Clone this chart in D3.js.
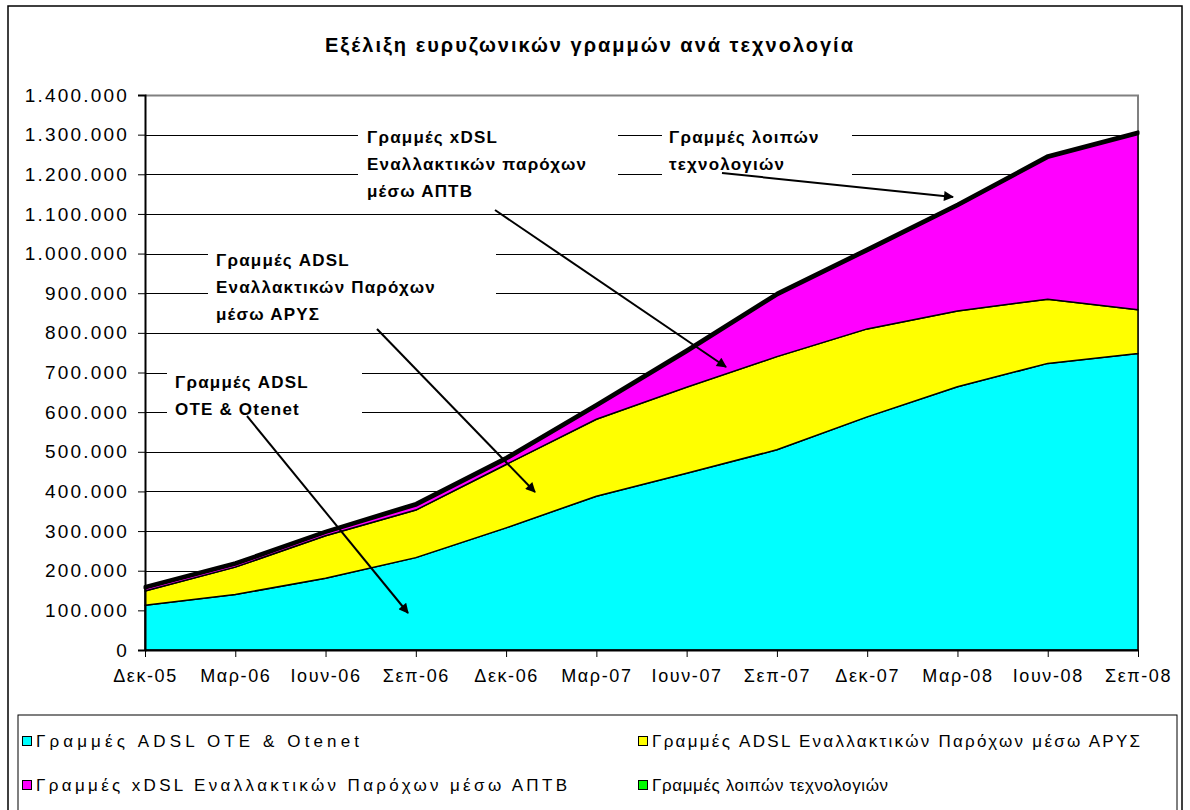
<!DOCTYPE html>
<html>
<head>
<meta charset="utf-8">
<script src="https://cdn.jsdelivr.net/npm/d3@7"></script>
<style>
  body { margin: 0; background: #fff; }
  svg text { font-family: Arial, "Liberation Sans", sans-serif; fill: #000; }
  .ann { font-weight: bold; font-size: 17px; letter-spacing: 1.2px; }
  .tick text { font-size: 18px; letter-spacing: 1.6px; }
  .yaxis .tick text { font-size: 19px; letter-spacing: 2.2px; }
</style>
</head>
<body>
<div id="chart"></div>
<script>
// quarters (x categories)
var categories = ["Δεκ-05", "Μαρ-06", "Ιουν-06", "Σεπ-06", "Δεκ-06", "Μαρ-07",
                  "Ιουν-07", "Σεπ-07", "Δεκ-07", "Μαρ-08", "Ιουν-08", "Σεπ-08"];

// series names, same order as stacking (bottom -> top)
var seriesNames = ["Γραμμές ADSL OTE & Otenet",
                   "Γραμμές ADSL Εναλλακτικών Παρόχων μέσω ΑΡΥΣ",
                   "Γραμμές xDSL Εναλλακτικών Παρόχων μέσω ΑΠΤΒ",
                   "Γραμμές λοιπών τεχνολογιών"];
var seriesColors = ["#00ffff", "#ffff00", "#ff00ff", "#00ff00"];

// values
var oteValues   = [113000, 140000, 181000, 233000, 308000, 388000, 446000, 505000, 588000, 664000, 723000, 748000];
var arysValues  = [36000, 69000, 107000, 120000, 160000, 194000, 217000, 235000, 222000, 191000, 162000, 110000];
var aptbValues  = [7000, 7000, 8000, 12000, 13000, 33000, 89000, 155000, 197000, 265000, 357000, 444000];
var otherValues = [4000, 4000, 4000, 5000, 5000, 5000, 5000, 5000, 5000, 5000, 5000, 5000];

var yTicks = d3.range(0, 1400001, 100000);
var chartTitle = "Εξέλιξη ευρυζωνικών γραμμών ανά τεχνολογία";

// annotations: text lines, box & text position, arrow (pixels)
var annotations = [
    {lines: ["Γραμμές xDSL", "Εναλλακτικών παρόχων", "μέσω ΑΠΤΒ"], tx: 367, ty: 143,
     box: [358, 118, 260, 84], arrow: [495, 210, 726, 367]},
    {lines: ["Γραμμές λοιπών", "τεχνολογιών"], tx: 669, ty: 143,
     box: [662, 118, 190, 60], arrow: [722, 173, 953, 197]},
    {lines: ["Γραμμές ADSL", "Εναλλακτικών Παρόχων", "μέσω ΑΡΥΣ"], tx: 216, ty: 266,
     box: [208, 240, 288, 84], arrow: [377, 329, 535, 492]},
    {lines: ["Γραμμές ADSL", "OTE & Otenet"], tx: 175, ty: 388,
     box: [167, 362, 195, 60], arrow: [247, 416, 408, 613]}
];

// legend layout: item positions and text widths as rendered in the original
var legendPos = [[22, 741], [638, 741], [22, 785], [638, 785]];
var legendTextWidths = [323, 488, 531, 236];

var width = 1190, height = 810;
var margin = {top: 95, right: 52, bottom: 160, left: 145};
var plotW = width - margin.left - margin.right;
var plotH = height - margin.top - margin.bottom;

var svg = d3.select("#chart").append("svg")
    .attr("width", width)
    .attr("height", height);

// arrow marker
svg.append("defs").append("marker")
    .attr("id", "arrowhead")
    .attr("viewBox", "0 0 10 10")
    .attr("refX", 9).attr("refY", 5)
    .attr("markerWidth", 6).attr("markerHeight", 5)
    .attr("markerUnits", "strokeWidth")
    .attr("orient", "auto")
    .append("path").attr("d", "M0,0 L10,5 L0,10 z").attr("fill", "#000");

// outer chart frame
svg.append("rect")
    .attr("x", 8).attr("y", 6)
    .attr("width", 1174).attr("height", 820)
    .attr("fill", "#fff").attr("stroke", "#000").attr("stroke-width", 1.5);

svg.append("text")
    .attr("x", 590).attr("y", 52)
    .attr("text-anchor", "middle")
    .style("font-size", "20px").style("font-weight", "bold").style("letter-spacing", "2px")
    .text(chartTitle);

var g = svg.append("g").attr("transform", "translate(" + margin.left + "," + margin.top + ")");

var x = d3.scalePoint().domain(categories).range([0, plotW]);
var y = d3.scaleLinear().domain([0, 1400000]).range([plotH, 0]);

// gridlines
g.selectAll("line.grid").data(yTicks.slice(1, -1)).enter().append("line")
    .attr("class", "grid")
    .attr("x1", 0).attr("x2", plotW)
    .attr("y1", function (d) { return Math.round(y(d)) + 0.5; })
    .attr("y2", function (d) { return Math.round(y(d)) + 0.5; })
    .attr("stroke", "#000").attr("stroke-width", 1);

// plot frame (top + right in grey)
g.append("path")
    .attr("d", "M0," + (y(1400000) + 0.5) + "H" + plotW + "V" + plotH)
    .attr("fill", "none").attr("stroke", "#808080").attr("stroke-width", 2);

// white boxes behind annotation labels
annotations.forEach(function (a) {
    svg.append("rect")
        .attr("x", a.box[0]).attr("y", a.box[1])
        .attr("width", a.box[2]).attr("height", a.box[3])
        .attr("fill", "#fff");
});

// stacked areas
var rows = categories.map(function (c, i) {
    return {cat: c, s0: oteValues[i], s1: arysValues[i], s2: aptbValues[i], s3: otherValues[i]};
});
var stack = d3.stack().keys(["s0", "s1", "s2", "s3"]);
var layers = stack(rows);

var area = d3.area()
    .x(function (d) { return x(d.data.cat); })
    .y0(function (d) { return y(d[0]); })
    .y1(function (d) { return y(d[1]); });

g.selectAll("path.layer").data(layers).enter().append("path")
    .attr("class", "layer")
    .attr("d", area)
    .attr("fill", function (d, i) { return seriesColors[i]; })
    .attr("stroke", "#000")
    .attr("stroke-width", function (d, i) { return i == 3 ? 3 : 1.5; })
    .attr("stroke-linejoin", "round");

// axes
var fmt = d3.formatLocale({decimal: ",", thousands: ".", grouping: [3], currency: ["", "€"]}).format(",");

var yAxis = g.append("g").attr("class", "yaxis")
    .call(d3.axisLeft(y).tickValues(yTicks).tickFormat(fmt).tickSize(7).tickPadding(9));
yAxis.select(".domain").attr("stroke", "#000").attr("stroke-width", 2);

var xAxis = g.append("g")
    .attr("transform", "translate(0," + plotH + ")")
    .call(d3.axisBottom(x).tickSize(7).tickPadding(12).tickSizeOuter(0));
xAxis.select(".domain").attr("stroke", "#000").attr("stroke-width", 2);

// annotation labels and arrows
annotations.forEach(function (a) {
    var t = svg.append("text").attr("class", "ann")
        .attr("x", a.tx).attr("y", a.ty);
    a.lines.forEach(function (line, k) {
        t.append("tspan").attr("x", a.tx).attr("dy", k == 0 ? 0 : 27).text(line);
    });
    svg.append("line")
        .attr("x1", a.arrow[0]).attr("y1", a.arrow[1])
        .attr("x2", a.arrow[2]).attr("y2", a.arrow[3])
        .attr("stroke", "#000").attr("stroke-width", 2)
        .attr("marker-end", "url(#arrowhead)");
});

// legend
svg.append("rect")
    .attr("x", 18).attr("y", 715)
    .attr("width", 1159).attr("height", 120)
    .attr("fill", "#fff").attr("stroke", "#000").attr("stroke-width", 1);

var legend = svg.selectAll("g.legend").data(seriesNames).enter().append("g")
    .attr("class", "legend")
    .attr("transform", function (d, i) { return "translate(" + legendPos[i][0] + "," + legendPos[i][1] + ")"; });
legend.append("rect")
    .attr("x", 0.5).attr("y", -4.5).attr("width", 9).attr("height", 9)
    .attr("fill", function (d, i) { return seriesColors[i]; })
    .attr("stroke", "#000");
legend.append("text")
    .attr("x", 14).attr("y", 6)
    .attr("textLength", function (d, i) { return legendTextWidths[i]; })
    .attr("lengthAdjust", "spacing")
    .style("font-size", "17px")
    .text(function (d) { return d; });
</script>
</body>
</html>
